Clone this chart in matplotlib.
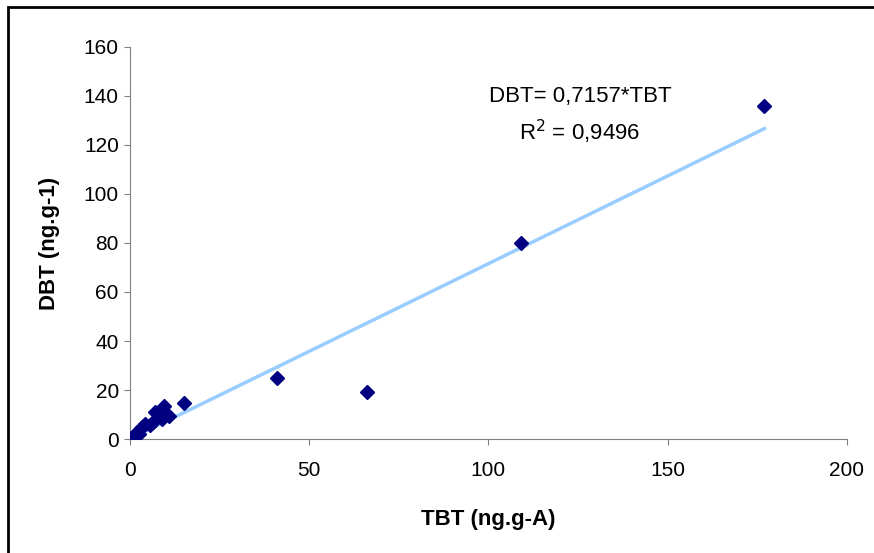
import matplotlib.pyplot as plt
from matplotlib.patches import Rectangle

plt.rcParams['font.family'] = ['Liberation Sans', 'DejaVu Sans']

# TBT vs DBT concentrations (ng/g)
tbt = [177, 109, 66, 41, 15, 9.5, 7, 10.9, 8.9, 6.4, 4.2, 5.6, 3.3, 2, 0.8, 1.5, 2.5, 0.3]
dbt = [136, 80, 19, 25, 14.7, 13.5, 11, 9.4, 8.0, 6.9, 6.3, 5.7, 4.9, 3, 0.8, 1.5, 2.2, 0.3]
slope = 0.7157
r2 = 0.9496
fit_x = [0, 177]

fig = plt.figure(figsize=(8.74, 5.53), dpi=100)
ax = fig.add_axes([0.1487, 0.2061, 0.8203, 0.709])

fit_y = [slope * v for v in fit_x]
ax.plot(fit_x, fit_y, color='#99CCFF', lw=2.5, zorder=2)
ax.plot(tbt, dbt, linestyle='none', marker='D', markersize=7,
        color='#000080', zorder=3)

ax.set_xlim(0, 200)
ax.set_ylim(0, 160)
ax.set_xticks(range(0, 201, 50))
ax.set_yticks(range(0, 161, 20))
for side in ['top', 'right']:
    ax.spines[side].set_visible(False)
for side in ['left', 'bottom']:
    ax.spines[side].set_color('#808080')
ax.tick_params(direction='out', length=4, color='#808080', labelsize=15)
ax.tick_params(axis='y', pad=4)
ax.tick_params(axis='x', pad=12)

ax.set_xlabel('TBT (ng.g-A)', fontsize=16, fontweight='bold', labelpad=21)
ax.set_ylabel('DBT (ng.g-1)', fontsize=16, fontweight='bold', labelpad=17)

ax.text(125.5, 139.8, 'DBT= 0,7157*TBT', ha='center', va='center', fontsize=16)
ax.text(125.5, 125.3, 'R$^2$ = 0,9496', ha='center', va='center', fontsize=16)

# outer frame of the chart area
fig.patches.append(Rectangle((8 / 874, -0.1), 1.2, (553 - 7) / 553 + 0.1,
                             transform=fig.transFigure, fill=False,
                             edgecolor='black', lw=2))

fig.savefig('out.png', dpi=100)
